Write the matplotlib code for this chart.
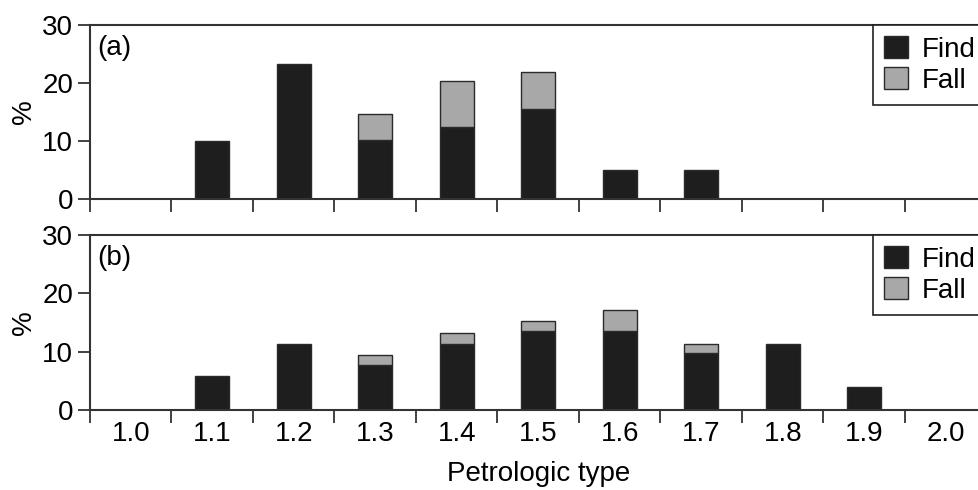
import numpy as np
import matplotlib.pyplot as plt
from matplotlib.patches import Patch

plt.rcParams['font.family'] = ['Liberation Sans', 'DejaVu Sans']

types = ['1.0', '1.1', '1.2', '1.3', '1.4', '1.5', '1.6', '1.7', '1.8', '1.9', '2.0']

find_a = [0, 10.0, 23.3, 10.2, 12.4, 15.5, 5.0, 5.0, 0, 0, 0]
fall_a = [0, 0, 0, 4.5, 7.9, 6.4, 0, 0, 0, 0, 0]

find_b = [0, 5.8, 11.4, 7.8, 11.4, 13.5, 13.5, 9.7, 11.3, 3.9, 0]
fall_b = [0, 0, 0, 1.7, 1.8, 1.8, 3.7, 1.6, 0, 0, 0]

find_col = '#1e1e1e'
fall_col = '#a8a8a8'
edge_col = '#2a2a2a'
fs = 20

fig = plt.figure(figsize=(9.79, 4.9), dpi=100)
ax_a = fig.add_axes([90/979, 1-199/490, 896.5/979, 174/490])
ax_b = fig.add_axes([90/979, 1-410/490, 896.5/979, 175/490])

x = np.arange(len(types))

for ax, find, fall, lab in [(ax_a, find_a, fall_a, '(a)'), (ax_b, find_b, fall_b, '(b)')]:
    find = np.array(find)
    fall = np.array(fall)
    m = find > 0
    ax.bar(x[m], find[m], width=0.42, color=find_col, edgecolor=edge_col, linewidth=1)
    m2 = fall > 0
    ax.bar(x[m2], fall[m2], width=0.42, bottom=find[m2], color=fall_col,
           edgecolor=edge_col, linewidth=1)
    ax.set_xlim(-0.5, len(types) - 0.5)
    ax.set_ylim(0, 30)
    ax.set_yticks([0, 10, 20, 30])
    ax.set_xticks(np.arange(len(types) + 1) - 0.5)
    ax.set_xticks(x, minor=True)
    ax.tick_params(axis='x', which='major', direction='out', length=9, width=1.3,
                   labelbottom=False, color='#333333')
    ax.tick_params(axis='x', which='minor', length=0, labelsize=fs, pad=8)
    ax.tick_params(axis='y', direction='out', length=9, width=1.3, labelsize=fs,
                   color='#333333', pad=3)
    for s in ax.spines.values():
        s.set_linewidth(1.5)
        s.set_color('#333333')
    ax.set_ylabel('%', fontsize=fs, labelpad=4)
    ax.text(0.008, 0.87, lab, transform=ax.transAxes, fontsize=fs, va='center', ha='left')
    handles = [Patch(facecolor=find_col, edgecolor=edge_col, label='Find'),
               Patch(facecolor=fall_col, edgecolor=edge_col, label='Fall')]
    leg = ax.legend(handles=handles, loc='upper right', bbox_to_anchor=(1, 1),
                    borderaxespad=0, fancybox=False, fontsize=fs, handlelength=0.85,
                    handleheight=0.85, handletextpad=0.5, labelspacing=0.15,
                    borderpad=0.4, framealpha=1)
    leg.get_frame().set_edgecolor('#222222')
    leg.get_frame().set_linewidth(1.2)

ax_a.tick_params(axis='x', which='minor', labelbottom=False)
ax_b.set_xticklabels(types, minor=True)
ax_b.set_xlabel('Petrologic type', fontsize=fs, labelpad=10)

fig.savefig('out.png', dpi=100)
